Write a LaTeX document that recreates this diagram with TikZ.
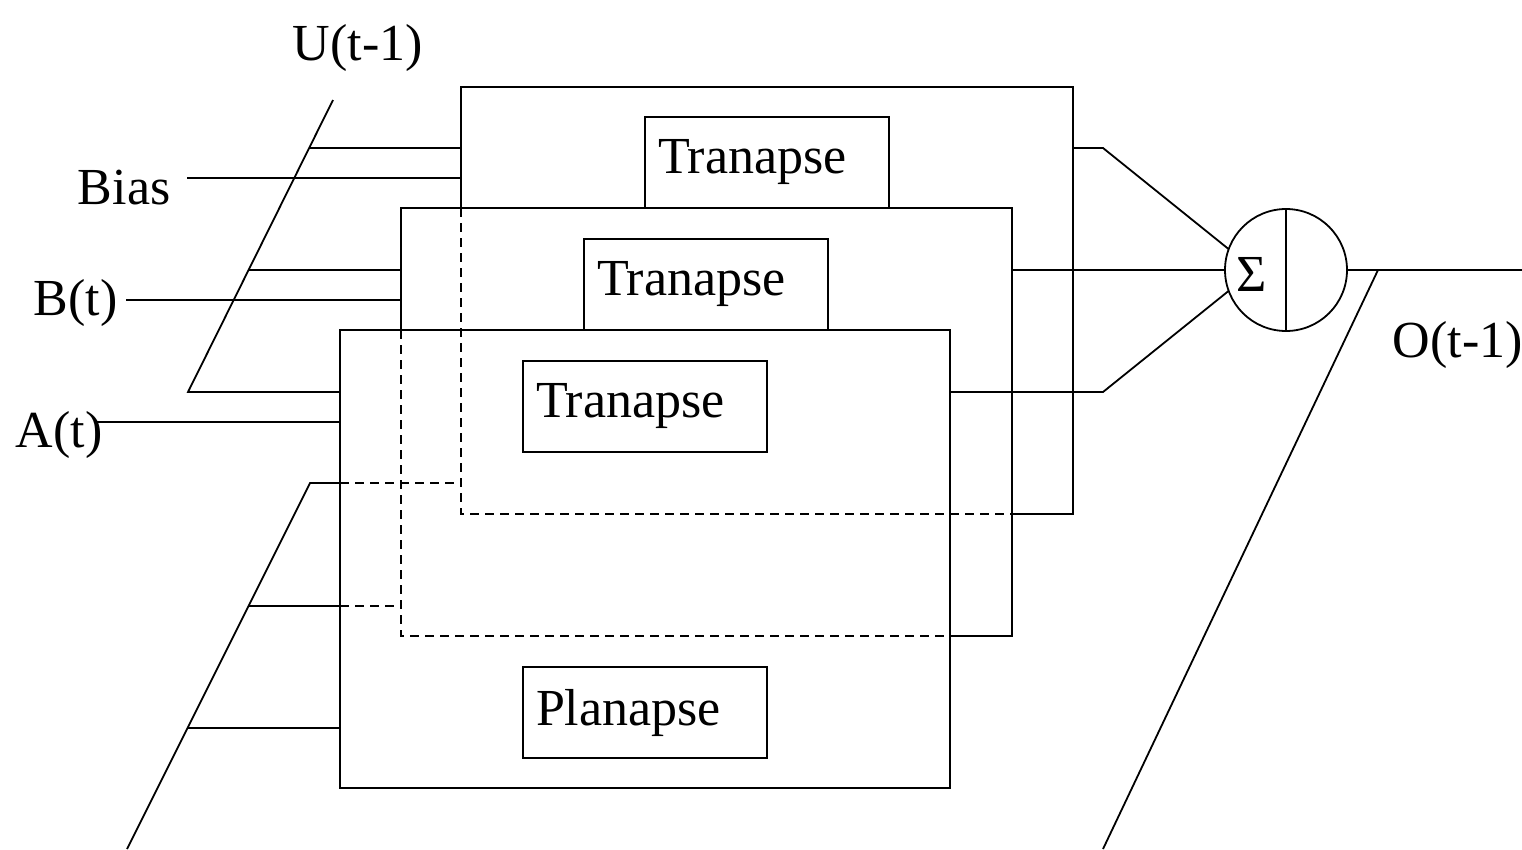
\documentclass[tikz,border=0pt]{standalone}
\usepackage{fontspec}
\setmainfont{Liberation Serif}
\usetikzlibrary{calc}

\begin{document}
\begin{tikzpicture}[x=1pt,y=-1pt,line width=1.8pt,
    every node/.append style={font=\fontsize{52}{60}\selectfont},
    hidden/.style={dash pattern=on 9pt off 6pt},
    layer/.style={rectangle,inner sep=0pt,outer sep=0pt},
    synbox/.style={draw,rectangle,inner sep=0pt,outer sep=0pt,
      minimum width=244pt,minimum height=91pt,text width=218pt,align=left},
    lbl/.style={anchor=base west,inner sep=0pt}]
  \useasboundingbox (0,0) rectangle (1522,849);
  % the three stacked layers
  \node[layer,minimum width=612pt,minimum height=427pt] (back) at (767,300.5) {};
  \node[layer,minimum width=611pt,minimum height=428pt] (mid) at (706.5,422) {};
  \node[layer,draw,minimum width=610pt,minimum height=458pt] (front) at (645,559) {};
  \draw (back.west |- mid.north) -- (back.north west) -- (back.north east)
    -- (back.south east) -- (mid.east |- back.south);
  \draw[hidden] (back.west |- mid.north) -- (back.south west) -- (mid.east |- back.south);
  \draw (mid.west |- front.north) -- (mid.north west) -- (mid.north east)
    -- (mid.south east) -- (front.east |- mid.south);
  \draw[hidden] (mid.west |- front.north) -- (mid.south west) -- (front.east |- mid.south);
  \node[synbox,anchor=north west] (tran1) at (645,117) {Tranapse};
  \node[synbox,anchor=north west] (tran2) at (584,239) {Tranapse};
  \node[synbox,anchor=north west] (tran3) at (523,361) {Tranapse};
  \node[synbox,anchor=north west] (plan) at (523,667) {Planapse};
  % labels
  \node[lbl] (lblU) at (292,60) {U(t-1)};
  \node[lbl] (lblBias) at (77,204) {Bias};
  \node[lbl] (lblB) at (33,315) {B(t)};
  \node[lbl] (lblA) at (15,447) {A(t)};
  \node[lbl] (lblO) at (1392,357) {O(t-1)};
  % summing unit
  \node[draw,circle,minimum size=122pt,inner sep=0pt,outer sep=0pt] (sum) at (1286,270) {};
  \draw (sum.north) -- (sum.south);
  \node[lbl] (sigma) at (1236,291) {Σ};
  % bus lines
  \coordinate (utop) at (333,100);
  \coordinate (ubot) at (188,392);
  \coordinate (u1) at (309,148);
  \coordinate (u2) at (249,270);
  \coordinate (biasin) at (187,178);
  \coordinate (bin) at (126,300);
  \coordinate (ain) at (97,422);
  \coordinate (ltop) at (310,483);
  \coordinate (lbot) at (127,849);
  \coordinate (l1) at (249,606);
  \coordinate (l2) at (188,728);
  \coordinate (k1) at (1103,148);
  \coordinate (k3) at (1103,392);
  \coordinate (otop) at (1378,270);
  \coordinate (obot) at (1103,849);
  \coordinate (oend) at (1522,270);
  \draw (utop) -- (ubot) -- (ubot -| front.west);
  \draw (u1) -- (u1 -| back.west);
  \draw (biasin) -- (biasin -| back.west);
  \draw (u2) -- (u2 -| mid.west);
  \draw (bin) -- (bin -| mid.west);
  \draw (ain) -- (ain -| front.west);
  \draw (lbot) -- (ltop) -- (ltop -| front.west);
  \draw[hidden] (ltop -| front.west) -- (ltop -| back.west);
  \draw (l1) -- (l1 -| front.west);
  \draw[hidden] (l1 -| front.west) -- (l1 -| mid.west);
  \draw (l2) -- (l2 -| front.west);
  % outputs
  \draw (back.east |- k1) -- (k1) -- (sum.160);
  \draw (mid.east |- sum.west) -- (sum.west);
  \draw (front.east |- k3) -- (k3) -- (sum.200);
  \draw (sum.east) -- (oend);
  \draw (otop) -- (obot);
\end{tikzpicture}
\end{document}
